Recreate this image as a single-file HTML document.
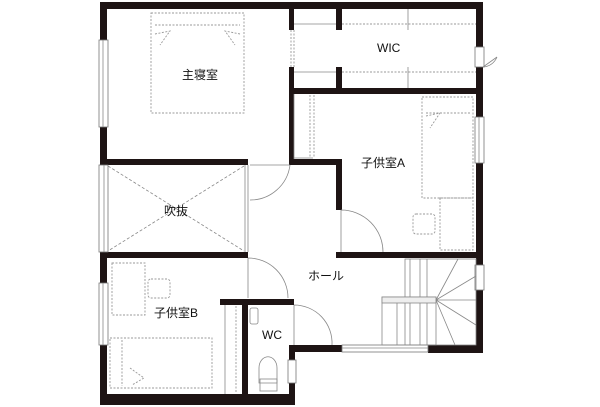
<!DOCTYPE html>
<html><head><meta charset="utf-8"><style>
html,body{margin:0;padding:0;background:#fff}
svg{display:block}
text{font-family:"Liberation Sans","Noto Sans CJK JP",sans-serif;font-size:12px;fill:#111}
</style></head><body>
<svg width="600" height="407" viewBox="0 0 600 407" xmlns="http://www.w3.org/2000/svg">
<g fill="#1e1414">
<rect x="100" y="2" width="383" height="7"/>
<rect x="100" y="2" width="7" height="403"/>
<rect x="100" y="394" width="195" height="11"/>
<rect x="476" y="2" width="7" height="351"/>
<rect x="289" y="9" width="5" height="21"/>
<rect x="289" y="67" width="5" height="98"/>
<rect x="336" y="9" width="6" height="21"/>
<rect x="336" y="67" width="6" height="21"/>
<rect x="289" y="88" width="194" height="6"/>
<rect x="289" y="159" width="53" height="6"/>
<rect x="336" y="159" width="6" height="51"/>
<rect x="100" y="159" width="148" height="6"/>
<rect x="100" y="252" width="148" height="6"/>
<rect x="336" y="252" width="147" height="6"/>
<rect x="220" y="299" width="74" height="6"/>
<rect x="242" y="299" width="6" height="106"/>
<rect x="289" y="345" width="6" height="60"/>
<rect x="289" y="345" width="53" height="7"/>
<rect x="428" y="345" width="55" height="8"/>
</g>
<g fill="#fff" stroke="#777" stroke-width="0.8">
<rect x="99" y="40" width="9" height="87"/>
<rect x="99" y="165" width="9" height="87"/>
<rect x="99" y="283" width="9" height="62"/>
<rect x="475" y="117" width="9" height="46"/>
<rect x="475" y="265" width="9" height="25"/>
<rect x="475" y="47" width="9" height="20"/>
<rect x="342" y="345" width="86" height="7"/>
<rect x="288" y="360" width="8" height="23"/>
</g>
<g fill="none" stroke="#888" stroke-width="0.8">
<line x1="103" y1="40" x2="103" y2="127"/><line x1="104" y1="165" x2="104" y2="252"/><line x1="103" y1="283" x2="103" y2="345"/>
<line x1="479" y1="117" x2="479" y2="163"/><line x1="342" y1="348" x2="428" y2="348"/>
<path d="M483 67 L497 57 M483 67 A16 16 0 0 0 497 57"/>
<path d="M290 165 L250 165 M290 165 A40 40 0 0 1 250 200"/>
<line x1="248" y1="165" x2="248" y2="252"/><line x1="245" y1="165" x2="245" y2="252"/>
<path d="M341 210 L341 252 M341 210 A42 42 0 0 1 383 252"/>
<path d="M248 258 L248 298 M248 258 A40 40 0 0 1 288 298"/>
<path d="M294 305 L294 345 M294 305 A38 38 0 0 1 332 345"/>
<line x1="294" y1="24" x2="336" y2="24"/><line x1="294" y1="72" x2="336" y2="72"/>
<line x1="408" y1="9" x2="408" y2="30"/><line x1="408" y1="67" x2="408" y2="88"/>
<line x1="294" y1="94" x2="294" y2="159"/>
<line x1="294" y1="158" x2="313" y2="158"/>
<path d="M108 166 L244 251 M244 166 L108 251" stroke-dasharray="3 2"/>
<rect x="405" y="259" width="71" height="86"/>
<rect x="382" y="297" width="54" height="48"/>
<rect x="382" y="297" width="54" height="6" fill="#eee"/>
<line x1="410" y1="259" x2="410" y2="297"/><line x1="420" y1="259" x2="420" y2="297"/><line x1="427" y1="259" x2="427" y2="297"/>
<line x1="397" y1="303" x2="397" y2="345"/><line x1="410" y1="303" x2="410" y2="345"/><line x1="420" y1="303" x2="420" y2="345"/><line x1="427" y1="303" x2="427" y2="345"/>
<path d="M436 300 L458 259 M436 300 L476 276 M436 300 L476 300 M436 300 L476 325 M436 300 L455 345"/>
<line x1="225" y1="305" x2="225" y2="394"/>
<rect x="250" y="308" width="8" height="16" rx="2"/>
<path d="M259 383 L259 368 A8 10 0 0 1 277 368 L277 383 Z"/>
<rect x="260" y="379" width="17" height="12"/>
</g>
<g fill="none" stroke="#999" stroke-width="0.9" stroke-dasharray="2 1.5">
<rect x="151" y="13" width="93" height="100"/>
<line x1="155" y1="25" x2="240" y2="25"/>
<path d="M155 34 L170 31 L160 45 M240 34 L225 31 L235 45"/>
<line x1="342" y1="24" x2="476" y2="24"/><line x1="342" y1="72" x2="476" y2="72"/>
<line x1="291" y1="30" x2="291" y2="67"/><line x1="294" y1="30" x2="294" y2="67"/>
<line x1="310" y1="95" x2="310" y2="158"/><line x1="314" y1="95" x2="314" y2="158"/>
<rect x="422" y="97" width="51" height="101"/>
<path d="M426 116 L440 113 L430 128"/>
<line x1="426" y1="113" x2="470" y2="113"/>
<rect x="440" y="198" width="33" height="52"/>
<rect x="413" y="214" width="22" height="20" rx="3"/>
<rect x="112" y="263" width="33" height="52"/>
<rect x="148" y="279" width="22" height="19" rx="3"/>
<rect x="110" y="338" width="102" height="50"/>
<line x1="122" y1="340" x2="122" y2="386"/>
<path d="M130 368 L144 378 L132 385"/>
<line x1="236" y1="306" x2="236" y2="393"/>
</g>
<text x="182" y="79">主寝室</text>
<text x="377" y="52">WIC</text>
<text x="361" y="167">子供室A</text>
<text x="164" y="215">吹抜</text>
<text x="308" y="280">ホール</text>
<text x="154" y="317">子供室B</text>
<text x="262" y="339">WC</text>
</svg>
</body></html>
